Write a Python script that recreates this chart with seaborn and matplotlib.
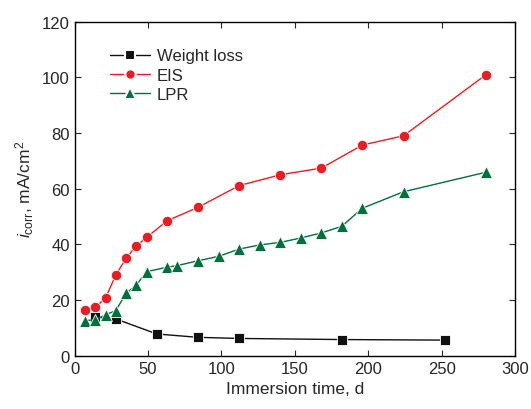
import seaborn as sns
import pandas as pd
import matplotlib.pyplot as plt

# values
wl_days = [14, 28, 56, 84, 112, 182, 252]
wl_icorr = [13.8, 13.2, 7.8, 6.6, 6.2, 5.8, 5.6]

eis_days = [7, 14, 21, 28, 35, 42, 49, 63, 84, 112, 140, 168, 196, 224, 280]
eis_icorr = [16.4, 17.4, 20.7, 29.0, 35.0, 39.5, 42.5, 48.5, 53.3, 61.1, 65.0, 67.4, 75.7, 79.0, 100.9]

lpr_days = [7, 14, 21, 28, 35, 42, 49, 63, 70, 84, 98, 112, 126, 140, 154, 168, 182, 196, 224, 280]
lpr_icorr = [12.6, 12.9, 14.7, 16.2, 22.4, 25.4, 30.2, 31.8, 32.4, 34.1, 35.7, 38.3, 39.8, 40.7,
             42.3, 44.1, 46.5, 53.0, 58.9, 65.9]

x_ticks = [0, 50, 100, 150, 200, 250, 300]
y_ticks = [0, 20, 40, 60, 80, 100, 120]

sns.set_style("ticks")
plt.rcParams['font.family'] = ['Liberation Sans', 'DejaVu Sans']
plt.rcParams['mathtext.fontset'] = 'custom'
plt.rcParams['mathtext.rm'] = 'Liberation Sans'
plt.rcParams['mathtext.it'] = 'Liberation Sans:italic'

fig = plt.figure(figsize=(5.31, 4.10), dpi=100)
ax = fig.add_axes([0.1407, 0.130, 0.8293, 0.8146])

wl = pd.DataFrame({"days": wl_days, "icorr": wl_icorr})
eis = pd.DataFrame({"days": eis_days, "icorr": eis_icorr})
lpr = pd.DataFrame({"days": lpr_days, "icorr": lpr_icorr})

sns.lineplot(x="days", y="icorr", data=wl, ax=ax, color="#111111", marker="s",
             markersize=6.5, markeredgecolor="white", markeredgewidth=0.6,
             linewidth=1.0, label="Weight loss")
sns.lineplot(x="days", y="icorr", data=eis, ax=ax, color="#ec1c24", marker="o",
             markersize=7.5, markeredgecolor="white", markeredgewidth=0.6,
             linewidth=1.0, label="EIS")
sns.lineplot(x="days", y="icorr", data=lpr, ax=ax, color="#00703c", marker="^",
             markersize=8, markeredgecolor="white", markeredgewidth=0.6,
             linewidth=1.0, label="LPR")

ax.set_xlim(0, 300)
ax.set_ylim(0, 120)
ax.set_xticks(x_ticks)
ax.set_yticks(y_ticks)
ax.tick_params(direction="in", top=True, right=True, labelsize=12, length=4, width=0.8)
for s in ax.spines.values():
    s.set_linewidth(1.0)
    s.set_color("black")

ax.set_xlabel("Immersion time, d", fontsize=12.5)
ax.set_ylabel(r"$\mathit{i}_{\mathrm{corr}}$, mA/cm$^{2}$", fontsize=12.5)

leg = ax.legend(loc="upper left", bbox_to_anchor=(0.045, 0.965), frameon=False, fontsize=12,
                handlelength=2.4, markerscale=1.0, labelspacing=0.25, handletextpad=0.45)
for h in leg.legend_handles:
    h.set_markeredgewidth(1.5)

fig.savefig("out.png", dpi=100)
